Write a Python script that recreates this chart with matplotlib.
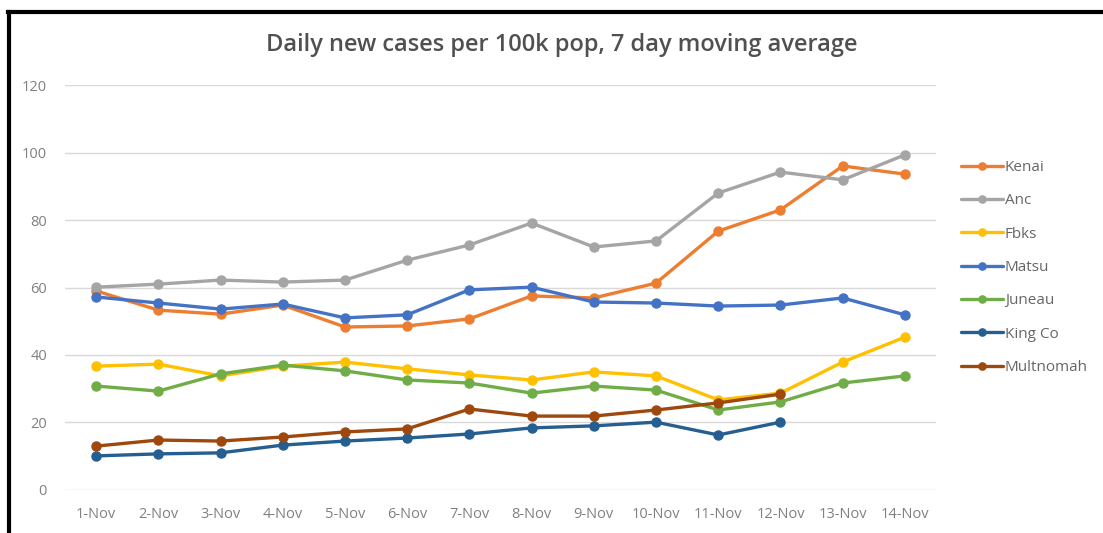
import matplotlib
matplotlib.use("Agg")
import matplotlib.pyplot as plt
from matplotlib.lines import Line2D

# ── Data ───────────────────────────────────────────────────────────────────────
days = ["1-Nov", "2-Nov", "3-Nov", "4-Nov", "5-Nov", "6-Nov", "7-Nov",
        "8-Nov", "9-Nov", "10-Nov", "11-Nov", "12-Nov", "13-Nov", "14-Nov"]

kenai     = [59.0, 53.3, 52.1, 54.8, 48.3, 48.6, 50.7, 57.5, 56.9, 61.3, 76.7, 83.0, 96.0, 93.6]
anc       = [60.1, 61.0, 62.2, 61.6, 62.2, 68.1, 72.6, 79.1, 72.0, 73.8, 88.0, 94.2, 91.9, 99.3]
fbks      = [36.7, 37.3, 33.8, 36.7, 37.9, 35.9, 34.1, 32.6, 35.0, 33.8, 26.7, 28.7, 37.9, 45.3]
matsu     = [57.2, 55.4, 53.6, 55.1, 51.0, 51.9, 59.3, 60.1, 55.7, 55.4, 54.5, 54.8, 56.9, 51.9]
juneau    = [30.8, 29.3, 34.4, 37.0, 35.3, 32.6, 31.7, 28.7, 30.8, 29.6, 23.7, 26.1, 31.7, 33.8]
king_co   = [10.1, 10.7, 11.0, 13.3, 14.5, 15.4, 16.6, 18.4, 19.0, 20.1, 16.3, 20.1]
multnomah = [13.0, 14.8, 14.5, 15.7, 17.2, 18.1, 24.0, 21.9, 21.9, 23.7, 25.8, 28.4]

series = [
    ("Kenai",     kenai,     "#ED7D31"),
    ("Anc",       anc,       "#A5A5A5"),
    ("Fbks",      fbks,      "#FFC000"),
    ("Matsu",     matsu,     "#4472C4"),
    ("Juneau",    juneau,    "#70AD47"),
    ("King Co",   king_co,   "#255E91"),
    ("Multnomah", multnomah, "#9E480E"),
]

plt.rcParams.update({"font.family": ["Open Sans", "DejaVu Sans"]})

fig = plt.figure(figsize=(11.03, 5.33), dpi=100)
ax = fig.add_axes([0.0589, 0.0807, 0.7897, 0.7598])

for name, vals, col in series:
    ax.plot(range(len(vals)), vals, color=col, linewidth=2.4, marker="o",
            markersize=6.5, label=name, solid_capstyle="round")

ax.set_xlim(-0.5, len(days) - 0.5)
ax.set_ylim(0, 120)
ax.set_yticks(range(0, 121, 20))
ax.set_xticks(range(len(days)))
ax.set_xticklabels(days)
ax.tick_params(length=0, labelsize=10.5, labelcolor="#808080")
ax.tick_params(axis="x", pad=12)
ax.tick_params(axis="y", pad=13)
for s in ax.spines.values():
    s.set_visible(False)
ax.grid(axis="y", color="#d9d9d9", linewidth=1)
ax.set_axisbelow(True)

fig.text(0.509, 0.916, "Daily new cases per 100k pop, 7 day moving average",
         ha="center", va="center", fontsize=17, color="#505050",
         fontweight="semibold")

ax.legend(loc="upper left", bbox_to_anchor=(1.022, 0.83), frameon=False,
          fontsize=11, labelcolor="#666666", handlelength=2.75,
          handletextpad=0.1, labelspacing=1.2, borderaxespad=0,
          markerscale=0.8)

# screenshot border (top and left)
fig.add_artist(Line2D([0.0077, 1.0], [0.978, 0.978], color="black", linewidth=3,
                      transform=fig.transFigure))
fig.add_artist(Line2D([0.0082, 0.0082], [0.0, 0.978], color="black", linewidth=3,
                      transform=fig.transFigure))

fig.savefig("out.png", dpi=100)
